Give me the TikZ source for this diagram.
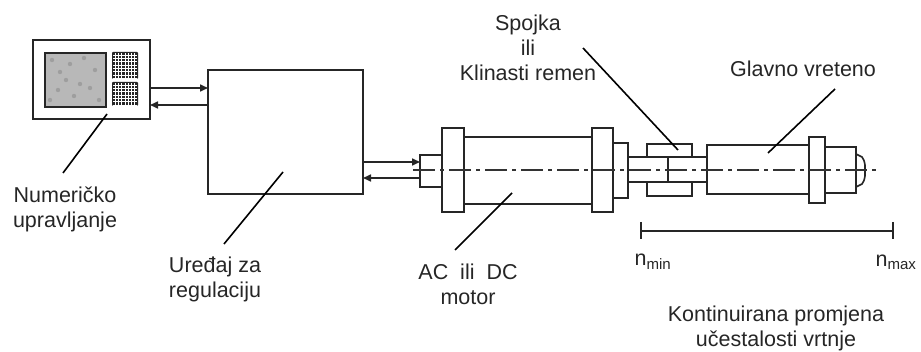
\documentclass[tikz,border=0pt]{standalone}
\usepackage{fontspec}
\setmainfont{Liberation Sans}
\usetikzlibrary{arrows.meta}
\begin{document}
\begin{tikzpicture}[x=1pt,y=-1pt,
  part/.style={draw=black!85,line width=1.6pt,fill=white},
  lead/.style={draw=black,line width=1.6pt},
  sig/.style={draw=black!85,line width=1.6pt,-{Triangle[length=8pt,width=7pt]}},
  axisline/.style={draw=black!80,line width=1.1pt,dash pattern=on 22pt off 5pt on 4pt off 5pt},
  lbl/.style={font=\fontsize{21.5}{25}\selectfont,text=black!85,align=center,inner sep=0pt}]
\useasboundingbox (0,0) rectangle (921,352);
% numeric control
\node[part,minimum width=117pt,minimum height=79pt,inner sep=0pt] (nc) at (91.5,79.5) {};
\node[draw=black!85,line width=1.6pt,fill=black!28,minimum width=61pt,minimum height=54pt,inner sep=0pt] (scr) at (75.5,80) {};
\foreach \px/\py in {52/60,60/72,70/64,84/58,95/70,58/90,74/96,90/88,99/100,66/80,80/84,50/100}{
  \fill[black!38] (\px,\py) circle (2.2pt);
}
\foreach \yy/\hh in {52/79,82/106}{
  \fill[black!85,rounded corners=1pt] (112,\yy) rectangle (138,\hh);
  \foreach \k in {1,...,7}{
    \draw[white,line width=0.9pt] (112+\k*3.25,\yy+1.2) -- (112+\k*3.25,\hh-1.2);
  }
  \pgfmathsetmacro{\nn}{int((\hh-\yy)/3.3)}
  \foreach \k in {1,...,\nn}{
    \draw[white,line width=0.9pt] (113.2,\yy+\k*3.3) -- (136.8,\yy+\k*3.3);
  }
}
% controller
\node[part,minimum width=155pt,minimum height=124pt,inner sep=0pt] (reg) at (285.5,132) {};
% motor
\node[part,minimum width=22pt,minimum height=32pt,inner sep=0pt] (ms) at (431,171) {};
\node[part,minimum width=128pt,minimum height=67pt,inner sep=0pt] (mb) at (528,170.5) {};
\node[part,minimum width=22pt,minimum height=84pt,inner sep=0pt] (mf1) at (453,170) {};
\node[part,minimum width=21pt,minimum height=84pt,inner sep=0pt] (mf2) at (602.5,170) {};
\node[part,minimum width=15pt,minimum height=55pt,inner sep=0pt] (mst) at (620.5,170.5) {};
% shaft and coupling
\draw[part] (628,157) rectangle (707,182);
\draw[part] (647,144) rectangle (692,157);
\draw[part] (647,182) rectangle (692,196);
\draw[part] (668,157) -- (668,182);
% spindle
\node[part,minimum width=102pt,minimum height=49pt,inner sep=0pt] (sp) at (758,169.5) {};
\node[part,minimum width=16pt,minimum height=66pt,inner sep=0pt] (spf) at (817,170) {};
\draw[part] (856,154) -- (862,157) .. controls (864,160) .. (865,165) -- (865,176) .. controls (864,181) .. (862,184) -- (856,187);
\node[part,minimum width=31pt,minimum height=46pt,inner sep=0pt] (nose) at (840.5,170) {};
% center line
\coordinate (cl1) at (413,170);
\coordinate (cl2) at (876,170);
\draw[axisline] (cl1) -- (cl2);
% signal arrows
\coordinate (a1s) at (150,88); \coordinate (a1e) at (208,88);
\coordinate (a2s) at (208,105); \coordinate (a2e) at (150,105);
\coordinate (b1s) at (363,162); \coordinate (b1e) at (420,162);
\coordinate (b2s) at (420,178); \coordinate (b2e) at (363,178);
\draw[sig] (a1s) -- (a1e);
\draw[sig] (a2s) -- (a2e);
\draw[sig] (b1s) -- (b1e);
\draw[sig] (b2s) -- (b2e);
% range bracket
\coordinate (r1) at (641,231); \coordinate (r2) at (893,231);
\draw[black!85,line width=1.6pt] (r1) -- (r2);
\draw[black!85,line width=1.6pt] (641,222) -- (641,239);
\draw[black!85,line width=1.6pt] (893,222) -- (893,239);
% labels
\node[lbl] (tnc) at (65,209) {Numeričko\\upravljanje};
\node[lbl] (treg) at (215,279) {Uređaj za\\regulaciju};
\node[lbl] (tmot) at (468,284) {AC~~ili~~DC\\motor};
\node[lbl] (tsp) at (528,48) {Spojka\\ili\\Klinasti remen};
\node[lbl] (tgl) at (803,69) {Glavno vreteno};
\node[lbl] (tmin) at (653,262) {n\textsubscript{min}};
\node[lbl] (tmax) at (896,262) {n\textsubscript{max}};
\node[lbl] (tk) at (776,328) {Kontinuirana promjena\\učestalosti vrtnje};
% leaders
\coordinate (l1a) at (107,114); \coordinate (l1b) at (63,173);
\coordinate (l2a) at (283,172); \coordinate (l2b) at (224,244);
\coordinate (l3a) at (512,193); \coordinate (l3b) at (455,250);
\coordinate (l4a) at (583,48);  \coordinate (l4b) at (678,150);
\coordinate (l5a) at (835,89);  \coordinate (l5b) at (768,153);
\draw[lead] (l1a) -- (l1b);
\draw[lead] (l2a) -- (l2b);
\draw[lead] (l3a) -- (l3b);
\draw[lead] (l4a) -- (l4b);
\draw[lead] (l5a) -- (l5b);
\end{tikzpicture}
\end{document}
